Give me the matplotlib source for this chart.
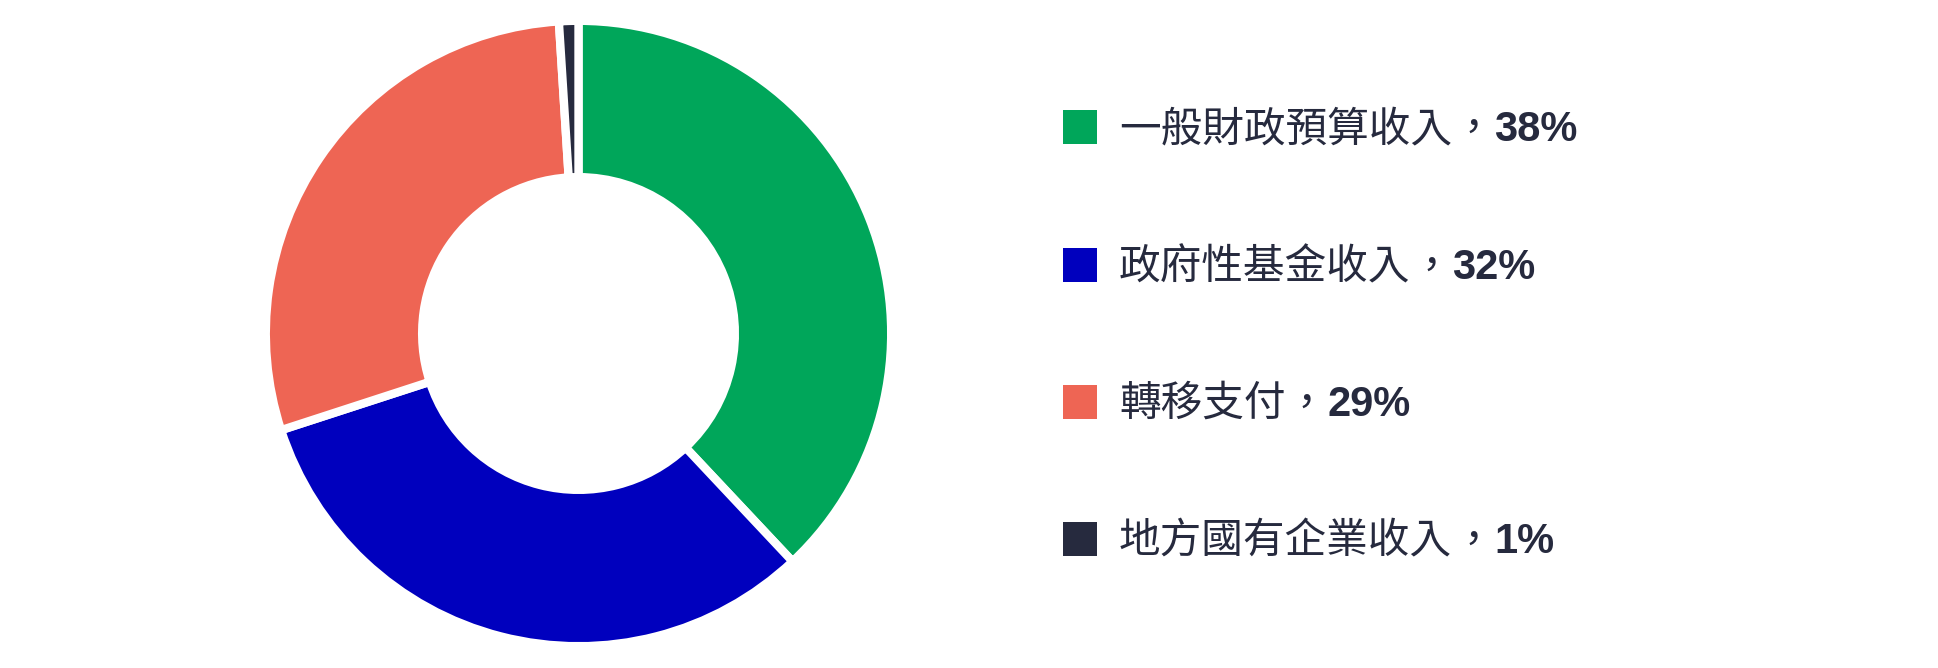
import matplotlib
matplotlib.use("Agg")
import matplotlib.pyplot as plt
from matplotlib.patches import Rectangle

# Data
categories = ["一般財政預算收入", "政府性基金收入", "轉移支付", "地方國有企業收入"]
values = [38, 32, 29, 1]
pct_labels = ["38%", "32%", "29%", "1%"]
colors = ["#00A65A", "#0000BE", "#EE6554", "#262A3E"]

W, H, DPI = 1938, 668, 100
fig = plt.figure(figsize=(W / DPI, H / DPI), dpi=DPI)
fig.patch.set_facecolor("white")

# donut geometry in pixels
cx, cy = 578.5, 333.5
R = 312.7
ax = fig.add_axes([(cx - R) / W, (H - cy - R) / H, 2 * R / W, 2 * R / H])
ax.pie(values, colors=colors, startangle=90, counterclock=False, radius=1,
       wedgeprops=dict(width=0.5, edgecolor="white", linewidth=6))
ax.set_xlim(-1, 1)
ax.set_ylim(-1, 1)
ax.set_aspect("equal")
ax.axis("off")

# legend
text_color = "#262A3E"
fs = 30
em = fs * DPI / 72.0
sq_centers = [127, 265, 402, 539]
sq = 34
sq_x0 = 1063
tx0 = 1119
cjk = ["Noto Sans CJK TC", "DejaVu Sans"]
for cat, pct, col, yc in zip(categories, pct_labels, colors, sq_centers):
    fig.add_artist(Rectangle((sq_x0 / W, (H - yc - sq / 2) / H), sq / W, sq / H,
                             transform=fig.transFigure, facecolor=col,
                             edgecolor="none"))
    base = yc + 14
    yb = (H - base) / H
    fig.text(tx0 / W, yb, cat, family=cjk, fontsize=fs, fontweight="light",
             color=text_color, va="baseline", ha="left")
    # full-width comma centred in its em box (Traditional Chinese style)
    cxm = tx0 + len(cat) * em + em / 2
    fig.text(cxm / W, yb, "，", family=cjk, fontsize=fs, fontweight="light",
             color=text_color, va="baseline", ha="center")
    px = tx0 + (len(cat) + 1) * em
    fig.text(px / W, yb, pct, family=["Liberation Sans", "DejaVu Sans"],
             fontsize=fs, fontweight="bold", color=text_color,
             va="baseline", ha="left")

fig.savefig("out.png", dpi=DPI, facecolor="white")
